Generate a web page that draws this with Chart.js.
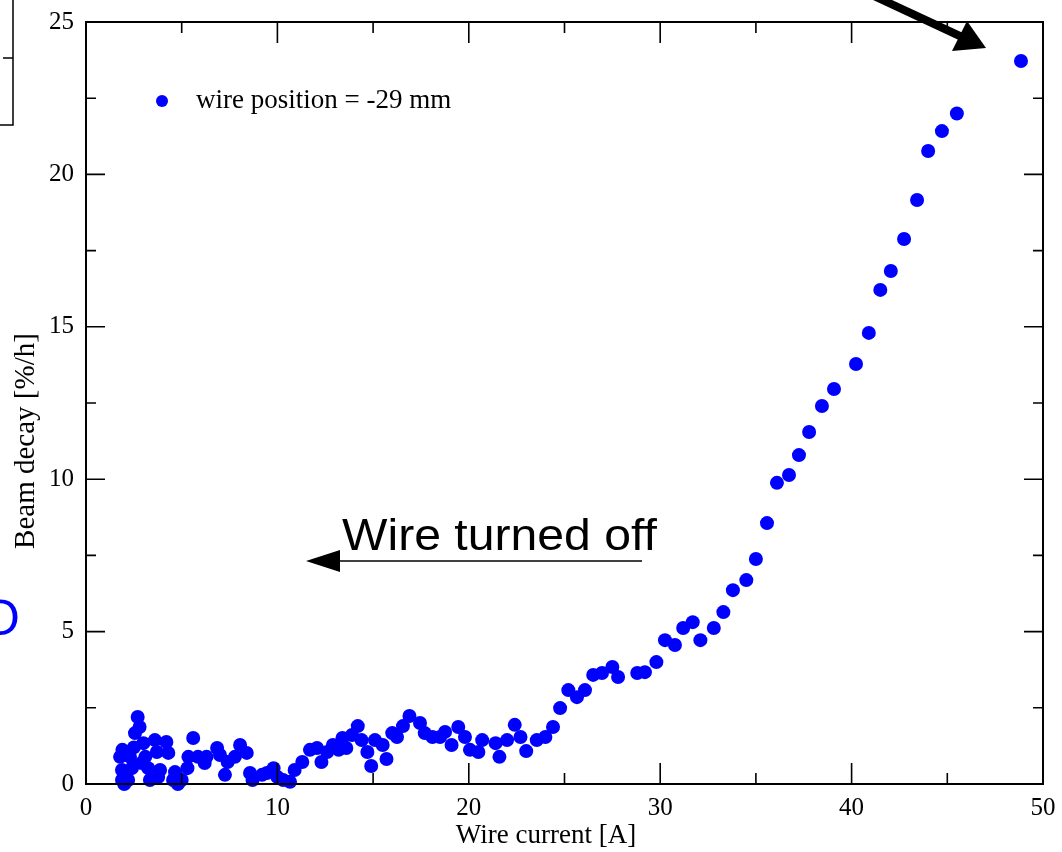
<!DOCTYPE html>
<html>
<head>
<meta charset="utf-8">
<script src="https://cdn.jsdelivr.net/npm/chart.js@4/dist/chart.umd.min.js"></script>
<style>
  html, body { margin: 0; padding: 0; background: #fff; }
  #wrap { width: 1062px; height: 852px; }
</style>
</head>
<body>
<div id="wrap"><canvas id="chart" width="1062" height="852"></canvas></div>
<script>
// wire current [A]
const wireCurrent = [
  1.78, 1.88, 1.88, 1.9, 2.0, 2.2, 2.3, 2.4, 2.5, 2.56, 2.7, 2.8, 2.9, 3.0, 3.1, 3.25, 3.34,
  3.6, 3.7, 3.77, 3.87, 4.2, 4.3, 4.55, 4.65, 4.8, 5.0, 5.3, 5.35, 5.6, 5.85, 6.2, 6.3,
  6.85, 7.0, 7.26, 7.4, 7.78, 8.05, 8.4, 8.57, 8.7, 9.2, 9.45, 9.8, 10.0, 10.3, 10.66, 10.9,
  11.3, 11.7, 12.07, 12.3, 12.6, 12.9, 13.2, 13.4, 13.6, 13.9, 14.2, 14.4, 14.7, 14.9,
  15.1, 15.5, 15.7, 16.0, 16.25, 16.56, 16.9, 17.45, 17.7, 18.1, 18.5, 18.76, 19.1, 19.45,
  19.8, 20.06, 20.5, 20.7, 21.4, 21.6, 22.0, 22.4, 22.7, 23.0, 23.55, 24.0, 24.4, 24.77,
  25.2, 25.65, 26.07, 26.5, 26.96, 27.5, 27.8, 28.8, 29.2, 29.8, 30.25, 30.77, 31.2, 31.7,
  32.1, 32.8, 33.3, 33.8, 34.5, 35.0, 35.58, 36.1, 36.73, 37.25, 37.78, 38.45, 39.08,
  40.23, 40.9, 41.5, 42.05, 42.74, 43.42, 44.0, 44.72, 45.5, 48.85
];
// beam decay [%/h]
const beamDecay = [
  0.89, 0.46, 0.13, 1.12, 0.0, 0.13, 0.89, 0.52, 1.2, 1.67, 2.2, 1.87, 0.69, 1.34, 0.89, 0.52, 0.13,
  1.44, 1.05, 0.23, 0.46, 1.38, 1.02, 0.13, 0.39, 0.0, 0.13, 0.52, 0.89, 1.51, 0.89, 0.69, 0.89,
  1.18, 0.95, 0.3, 0.72, 0.89, 1.28, 1.02, 0.36, 0.13, 0.3, 0.36, 0.52, 0.23, 0.13, 0.07, 0.46,
  0.72, 1.12, 1.18, 0.72, 1.05, 1.28, 1.12, 1.51, 1.18, 1.61, 1.9, 1.44, 1.05, 0.59,
  1.44, 1.28, 0.82, 1.67, 1.54, 1.9, 2.23, 2.0, 1.67, 1.54, 1.54, 1.71, 1.28, 1.87,
  1.54, 1.12, 1.05, 1.44, 1.34, 0.89, 1.44, 1.94, 1.54, 1.08, 1.44, 1.54, 1.87, 2.49,
  3.08, 2.85, 3.08, 3.58, 3.64, 3.84, 3.51, 3.64, 3.67, 4.0, 4.72, 4.56, 5.12, 5.31,
  4.72, 5.12, 5.64, 6.36, 6.69, 7.38, 8.56, 9.88, 10.14, 10.79, 11.55, 12.4, 12.96,
  13.78, 14.8, 16.21, 16.83, 17.88, 19.16, 20.77, 21.42, 22.0, 23.72
];

const xMajor = [0, 10, 20, 30, 40, 50];
const xMinor = [5, 15, 25, 35, 45];
const yMajor = [0, 5, 10, 15, 20, 25];
const yMinor = [2.5, 7.5, 12.5, 17.5, 22.5];

const seriesLabel = "wire position = -29 mm";
const xTitle = "Wire current [A]";
const yTitle = "Beam decay [%/h]";
const noteText = "Wire turned off";

const serif = '"Liberation Serif", "DejaVu Serif", serif';
const sans = '"Liberation Sans", Arial, sans-serif';
const blue = "#0000ff";

const points = wireCurrent.map((x, i) => ({ x: x, y: beamDecay[i] }));

const decor = {
  id: "decor",
  afterDraw(chart) {
    const ctx = chart.ctx;
    const a = chart.chartArea;
    const xs = chart.scales.x;
    const ys = chart.scales.y;
    ctx.save();
    ctx.strokeStyle = "#000";

    // inward ticks on all four sides
    ctx.lineWidth = 1.6;
    ctx.beginPath();
    const xt = (vals, len) => vals.forEach((v) => {
      const px = xs.getPixelForValue(v);
      ctx.moveTo(px, a.bottom); ctx.lineTo(px, a.bottom - len);
      ctx.moveTo(px, a.top); ctx.lineTo(px, a.top + len);
    });
    const yt = (vals, len) => vals.forEach((v) => {
      const py = ys.getPixelForValue(v);
      ctx.moveTo(a.left, py); ctx.lineTo(a.left + len, py);
      ctx.moveTo(a.right, py); ctx.lineTo(a.right - len, py);
    });
    xt(xMajor, 21); xt(xMinor, 11);
    yt(yMajor, 19); yt(yMinor, 10);
    ctx.stroke();

    // frame
    ctx.lineWidth = 2;
    ctx.strokeRect(a.left, a.top, a.right - a.left, a.bottom - a.top);

    // axis titles
    ctx.fillStyle = "#000";
    ctx.font = "27px " + serif;
    ctx.textAlign = "center";
    ctx.textBaseline = "middle";
    ctx.fillText(xTitle, 546, 836);
    ctx.save();
    ctx.translate(26, 441);
    ctx.rotate(-Math.PI / 2);
    ctx.font = "29px " + serif;
    ctx.fillText(yTitle, 0, 0);
    ctx.restore();

    // legend
    ctx.fillStyle = blue;
    ctx.beginPath();
    ctx.arc(162, 101, 6, 0, Math.PI * 2);
    ctx.fill();
    ctx.fillStyle = "#000";
    ctx.textAlign = "left";
    ctx.font = "27px " + serif;
    ctx.fillText(seriesLabel, 196, 101);

    // annotation: wire turned off
    ctx.save();
    ctx.font = "44px " + sans;
    ctx.textBaseline = "alphabetic";
    ctx.translate(342, 550);
    ctx.scale(1.094, 1);
    ctx.fillText(noteText, 0, 0);
    ctx.restore();
    ctx.lineWidth = 1.5;
    ctx.beginPath();
    ctx.moveTo(642, 561); ctx.lineTo(335, 561);
    ctx.stroke();
    ctx.beginPath();
    ctx.moveTo(306, 561); ctx.lineTo(340, 550); ctx.lineTo(340, 572);
    ctx.closePath();
    ctx.fill();

    // arrow at top right
    ctx.lineWidth = 8;
    ctx.beginPath();
    ctx.moveTo(874, -4); ctx.lineTo(962, 37);
    ctx.stroke();
    ctx.beginPath();
    ctx.moveTo(986, 48); ctx.lineTo(967, 21); ctx.lineTo(952, 51);
    ctx.closePath();
    ctx.fill();

    // partial box at top left
    ctx.lineWidth = 1.5;
    ctx.beginPath();
    ctx.moveTo(13, 0); ctx.lineTo(13, 125); ctx.lineTo(0, 125);
    ctx.moveTo(3, 58); ctx.lineTo(13, 58);
    ctx.stroke();

    // cut-off blue letter at left edge
    ctx.fillStyle = blue;
    ctx.font = "50px " + sans;
    ctx.textAlign = "right";
    ctx.fillText("O", 20, 621);

    ctx.restore();
  },
};

new Chart(document.getElementById("chart"), {
  type: "scatter",
  data: {
    datasets: [
      {
        label: seriesLabel,
        data: points,
        backgroundColor: blue,
        borderColor: blue,
        borderWidth: 0,
        pointRadius: 7,
        pointHoverRadius: 7,
        clip: false,
      },
    ],
  },
  options: {
    responsive: false,
    animation: false,
    events: [],
    layout: { padding: { top: 22, right: 19, left: 0, bottom: 0 } },
    scales: {
      x: {
        type: "linear",
        min: 0,
        max: 50,
        grid: { display: false, drawTicks: false },
        border: { display: false },
        ticks: {
          stepSize: 10,
          color: "#000",
          padding: 9,
          maxRotation: 0,
          font: { family: serif, size: 25 },
        },
        afterFit(scale) {
          scale.height = 68;
          scale.paddingLeft = 0;
          scale.paddingRight = 0;
        },
      },
      y: {
        type: "linear",
        min: 0,
        max: 25,
        grid: { display: false, drawTicks: false },
        border: { display: false },
        ticks: {
          stepSize: 5,
          color: "#000",
          padding: 12,
          font: { family: serif, size: 25 },
        },
        afterFit(scale) {
          scale.width = 86;
          scale.paddingTop = 0;
          scale.paddingBottom = 0;
        },
      },
    },
    plugins: {
      legend: { display: false },
      tooltip: { enabled: false },
    },
  },
  plugins: [decor],
});
</script>
</body>
</html>
